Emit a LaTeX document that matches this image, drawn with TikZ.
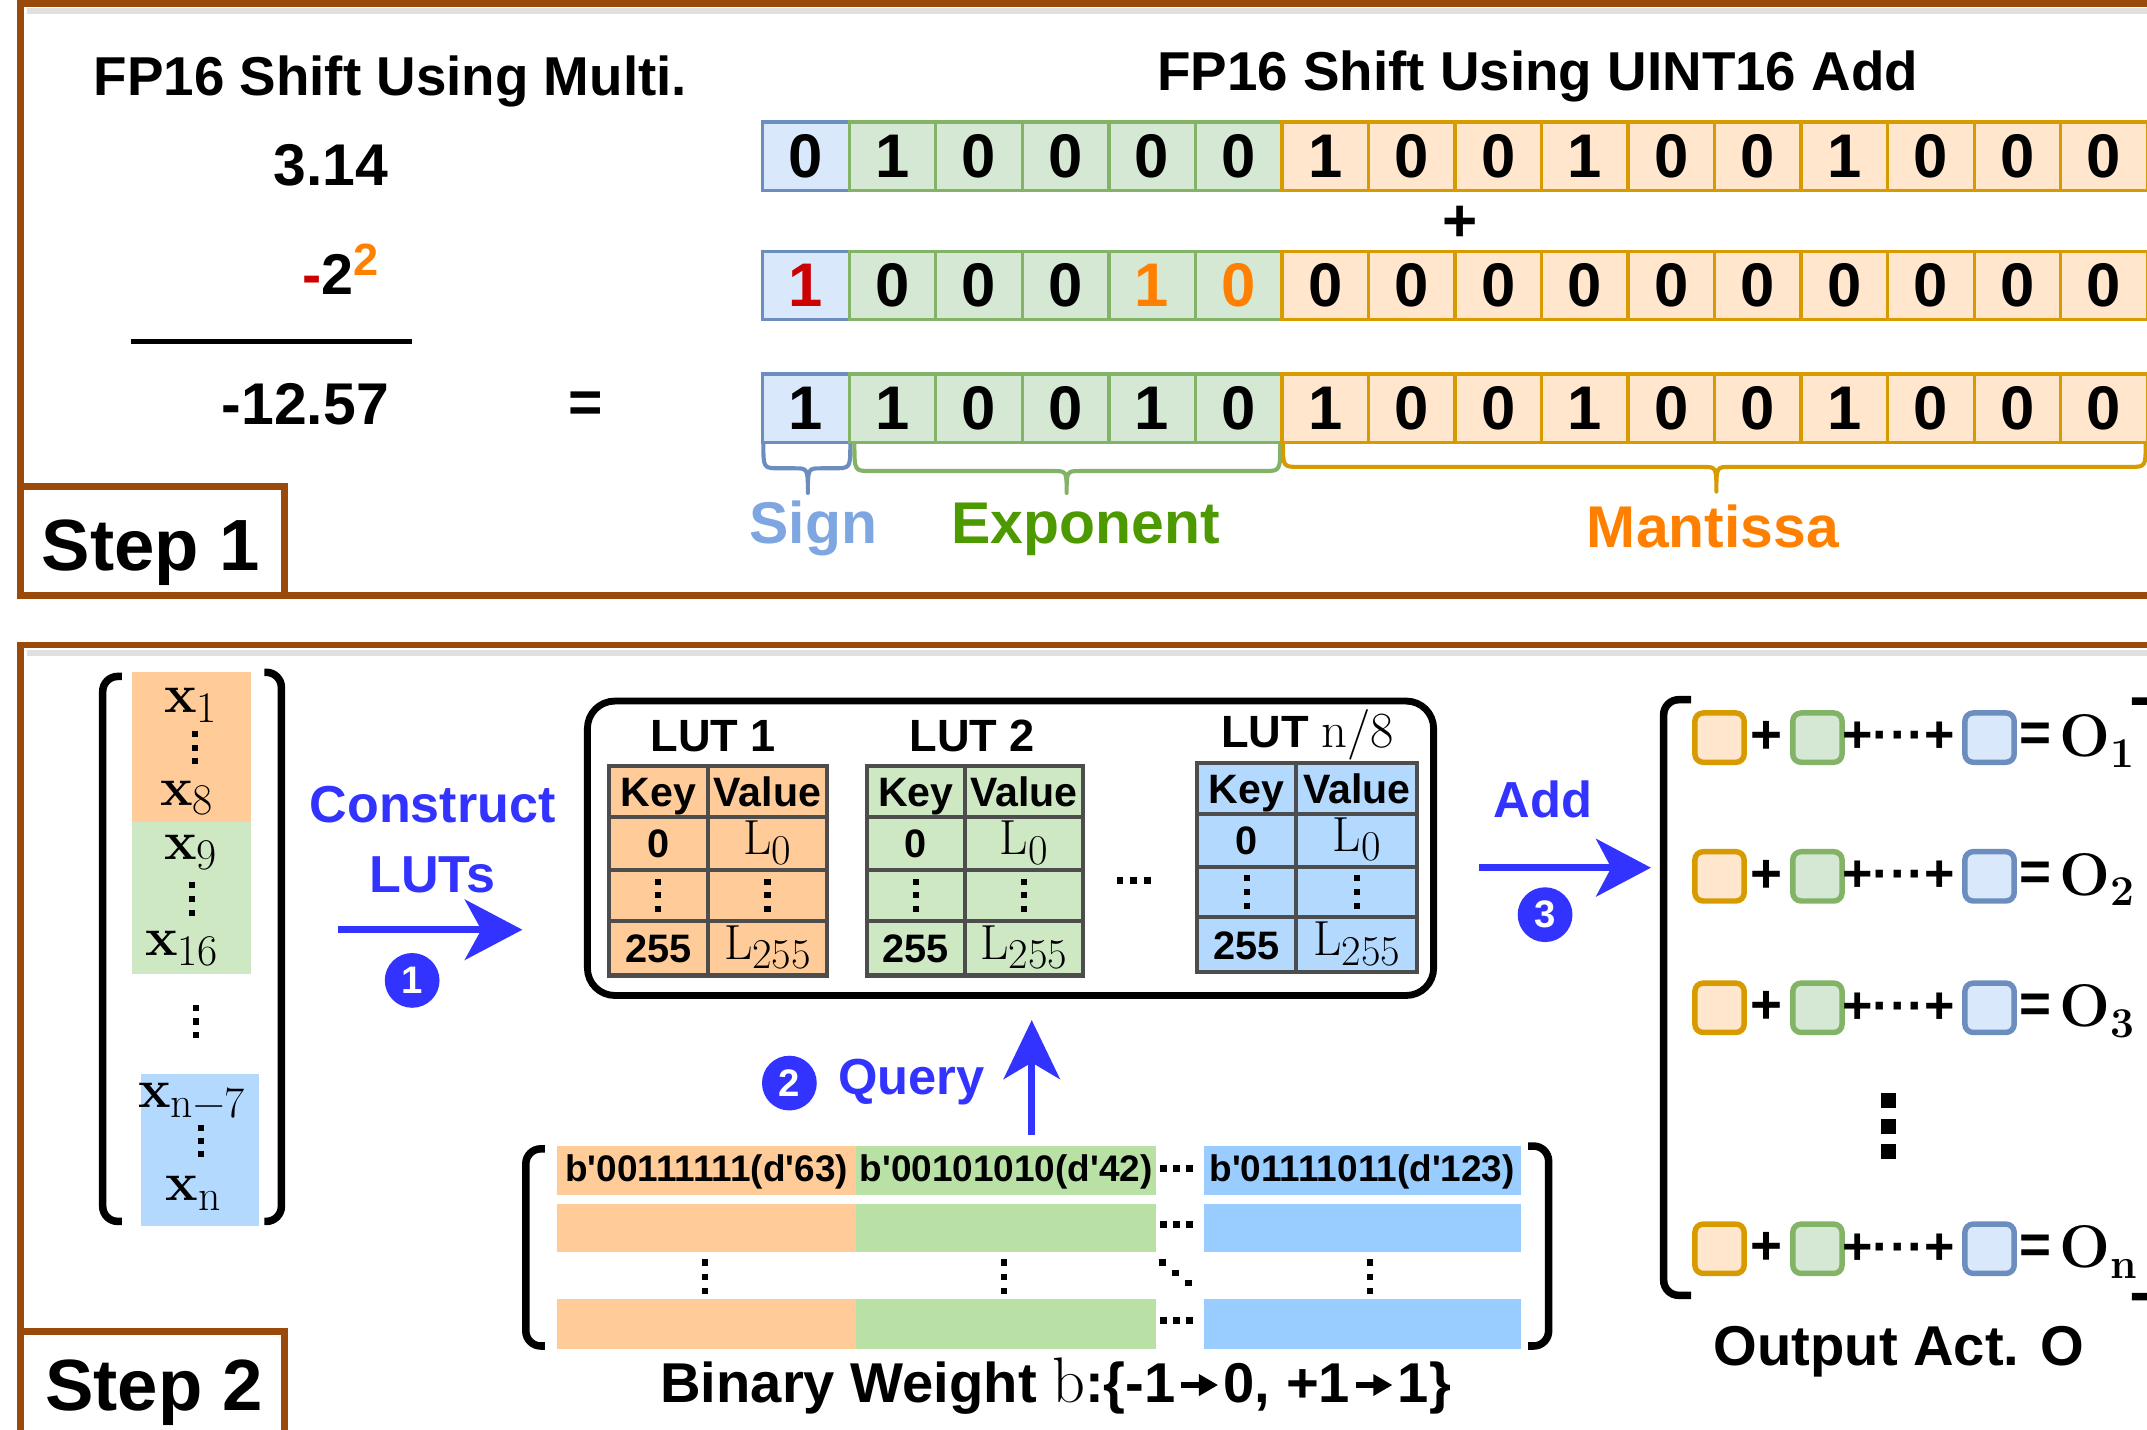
\documentclass[tikz,border=0pt]{standalone}
\usepackage{fontspec}
\usepackage{graphicx}
\usetikzlibrary{arrows.meta}
\newfontfamily\hv{Liberation Sans}[Ligatures=TeXOff]
\newcommand{\fsz}[1]{\fontsize{#1}{#1}\selectfont}
\definecolor{framec}{HTML}{9A4B0B}
\definecolor{bluF}{HTML}{DAE8FC}\definecolor{bluD}{HTML}{6C8EBF}
\definecolor{grnF}{HTML}{D5E8D4}\definecolor{grnD}{HTML}{82B366}
\definecolor{orgF}{HTML}{FFE6CC}\definecolor{orgD}{HTML}{D79B00}
\definecolor{qblue}{HTML}{3333FF}
\definecolor{lutO}{HTML}{FFCC99}\definecolor{lutG}{HTML}{CDE8C3}\definecolor{lutB}{HTML}{B3D9FF}
\definecolor{bwG}{HTML}{B9E0A5}\definecolor{bwB}{HTML}{99CCFF}
\definecolor{signT}{HTML}{7EA6E0}\definecolor{expT}{HTML}{4D9900}\definecolor{manT}{HTML}{FF8000}
\definecolor{redT}{HTML}{CC0000}
\definecolor{tabD}{HTML}{4D4D4D}

\newcommand{\sqdot}[3]{\fill ({#1-#3/2},{#2-#3/2}) rectangle ({#1+#3/2},{#2+#3/2});}
\newcommand{\vdotsq}[4]{\sqdot{#1}{#2-#3}{#4}\sqdot{#1}{#2}{#4}\sqdot{#1}{#2+#3}{#4}}
\newcommand{\hdotsq}[4]{\sqdot{#1-#3}{#2}{#4}\sqdot{#1}{#2}{#4}\sqdot{#1+#3}{#2}{#4}}
\newcommand{\fpbrace}[7]{\draw[#7, line width=3pt, line join=round] (#1,#4) .. controls (#1,#5) .. ({#1+12},#5) -- ({#2-10},#5) .. controls (#2,#5) .. (#2,#6) .. controls (#2,#5) .. ({#2+10},#5) -- ({#3-12},#5) .. controls (#3,#5) .. (#3,#4);}
\newcommand{\xsub}[1]{{\rmfamily\bfseries\fsz{40}x\raisebox{-7pt}{\mdseries\fsz{32}#1}}}
\newcommand{\Lsub}[1]{{\rmfamily\mdseries\fsz{36}L\raisebox{-7pt}{\fsz{31}#1}}}
\newcommand{\barrow}{\hspace{2pt}\tikz[baseline=0pt]{\draw[line width=4pt,-{Triangle[length=14pt,width=15pt]}] (0pt,12.5pt) -- (27pt,12.5pt);}\hspace{2pt}}
% #1 left x, #2 split x, #3 right x, #4 top y, #5 fill, #6 name prefix
\newcommand{\luttab}[6]{%
  \pgfmathsetmacro{\ya}{#4+37.5}%
  \pgfmathsetmacro{\yb}{#4+76}%
  \pgfmathsetmacro{\yc}{#4+113}%
  \pgfmathsetmacro{\yd}{#4+153}%
  \pgfmathsetmacro{\kx}{(#1+#2)/2}%
  \pgfmathsetmacro{\vx}{(#2+#3)/2}%
  \draw[tabline, fill=#5] (#1,#4) rectangle (#3,\yd);
  \draw[tabline] (#2,#4) -- (#2,\yd);
  \draw[tabline] (#1,\ya) -- (#3,\ya) (#1,\yb) -- (#3,\yb) (#1,\yc) -- (#3,\yc);
  \node[txt, anchor=base] (#6key) at (\kx,{(#4+\ya)/2+10.7}) {\fsz{30}Key};
  \node[txt, anchor=base] (#6val) at (\vx,{(#4+\ya)/2+10.7}) {\fsz{30}Value};
  \node[txt, anchor=base] (#6k0) at (\kx,{(\ya+\yb)/2+10.4}) {\fsz{29}0};
  \node[txt, anchor=base] (#6v0) at (\vx,{(\ya+\yb)/2+8}) {\Lsub{0}};
  \vdotsq{\kx}{(\yb+\yc)/2}{10}{4.5}
  \vdotsq{\vx}{(\yb+\yc)/2}{10}{4.5}
  \node[txt, anchor=base] (#6k255) at (\kx,{(\yc+\yd)/2+10.4}) {\fsz{29}255};
  \node[txt, anchor=base] (#6v255) at (\vx,{(\yc+\yd)/2+8}) {\Lsub{255}};
}

\begin{document}
\begin{tikzpicture}[x=1pt,y=-1pt,
  txt/.style={inner sep=0pt, outer sep=0pt, font=\hv\bfseries},
  bit/.style={minimum width=63.2pt, minimum height=50pt, line width=2.5pt, inner sep=0pt, font=\hv\bfseries\fsz{45}},
  tabline/.style={draw=tabD, line width=3pt},
  qarr/.style={draw=qblue, line width=5pt, -{Stealth[length=42pt,width=44pt,inset=12pt]}},
  badge/.style={circle, fill=qblue, minimum size=40pt, inner sep=0pt, text=white, font=\hv\bfseries\fsz{28}},
  osq/.style={minimum size=36pt, rounded corners=6pt, line width=4pt, inner sep=0pt},
  frm/.style={draw=framec, line width=5pt},
  brk/.style={line width=5.5pt, rounded corners=11pt}]
\useasboundingbox (0,0) rectangle (1568,1044.35);
\clip (0,0) rectangle (1568,1044.35);
\fill[white] (0,0) rectangle (1568,1044.35);

% ---------------- frames (with soft shadow) ----------------
\draw[black!12, line width=4pt] (20,8) -- (1600,8);
\draw[black!12, line width=4pt] (20,477) -- (1600,477);
\draw[frm] (15,2.5) rectangle (1600,435);
\draw[frm] (15,471) rectangle (1600,1090);
\draw[frm, fill=white] (15,355.5) rectangle (207.5,435);
\draw[frm, fill=white] (15,972.5) rectangle (207.5,1090);
\node[txt, anchor=base] (step1) at (110,416.5) {\fsz{53}Step 1};
\node[txt, anchor=base] (step2) at (112.6,1030) {\fsz{53}Step 2};

% ---------------- step 1, left ----------------
\node[txt, anchor=base] (title1) at (285,70) {\fsz{40}FP16 Shift Using Multi.};
\node[txt, anchor=base] (n314) at (241.5,135.5) {\fsz{43}3.14};
\node[txt, anchor=base west] (m22) at (221,215) {\fsz{42}\textcolor{redT}{-}2\raisebox{14pt}{\fsz{33}\textcolor{manT}{2}}};
\draw[line width=4pt] (95.6,249.4) -- (301,249.4);
\node[txt, anchor=base] (res) at (223,310) {\fsz{43}-12.57};
\node[txt] (eq) at (427.5,297.5) {\fsz{43}=};

% ---------------- step 1, right ----------------
\node[txt, anchor=base] (title2) at (1123,66) {\fsz{40}FP16 Shift Using UINT16 Add};
\foreach \b [count=\i from 0] in {0,1,0,0,0,0,1,0,0,1,0,0,1,0,0,0} {
  \ifnum\i=0 \def\fc{bluF}\def\dc{bluD}\else\ifnum\i<6 \def\fc{grnF}\def\dc{grnD}\else\def\fc{orgF}\def\dc{orgD}\fi\fi
  \node[bit, fill=\fc, draw=\dc] (ra\i) at ({588.6+63.2*\i},114) {\b};
}
\foreach \b [count=\i from 0] in {{\textcolor{redT}{1}},0,0,0,{\textcolor{manT}{1}},{\textcolor{manT}{0}},0,0,0,0,0,0,0,0,0,0} {
  \ifnum\i=0 \def\fc{bluF}\def\dc{bluD}\else\ifnum\i<6 \def\fc{grnF}\def\dc{grnD}\else\def\fc{orgF}\def\dc{orgD}\fi\fi
  \node[bit, fill=\fc, draw=\dc] (rb\i) at ({588.6+63.2*\i},208.5) {\b};
}
\foreach \b [count=\i from 0] in {1,1,0,0,1,0,1,0,0,1,0,0,1,0,0,0} {
  \ifnum\i=0 \def\fc{bluF}\def\dc{bluD}\else\ifnum\i<6 \def\fc{grnF}\def\dc{grnD}\else\def\fc{orgF}\def\dc{orgD}\fi\fi
  \node[bit, fill=\fc, draw=\dc] (rc\i) at ({588.6+63.2*\i},298) {\b};
}
\node[txt] (plus) at (1066,163.5) {\fsz{44}+};

\fpbrace{557.5}{590}{621}{324}{342}{360}{bluD}
\fpbrace{624}{779}{935}{324}{344}{360}{grnD}
\fpbrace{937}{1253.5}{1567}{324}{341}{359}{orgD}
\node[txt, anchor=base, text=signT] (lsign) at (594,397) {\fsz{43}Sign};
\node[txt, anchor=base, text=expT] (lexp) at (793,397) {\fsz{43}Exponent};
\node[txt, anchor=base, text=manT] (lman) at (1251,400) {\fsz{43}Mantissa};

% ---------------- step 2: activation vector ----------------
\fill[lutO] (96.4,490.5) rectangle (183,600);
\fill[lutG] (96.4,600) rectangle (183,711);
\fill[lutB] (102.8,784.7) rectangle (189.5,895);
\draw[brk] (89,494) -- (75,494) -- (75,892) -- (89,892);
\draw[brk] (193,491) -- (205.5,491) -- (205.5,892) -- (193,892);
\node[txt, anchor=base west] (x1) at (120,520.7) {\xsub{1}};
\vdotsq{142.5}{546}{10}{4.5}
\node[txt, anchor=base west] (x8) at (117,588) {\xsub{8}};
\node[txt, anchor=base west] (x9) at (120,628) {\xsub{9}};
\vdotsq{140}{656.5}{10}{4.5}
\node[txt, anchor=base west] (x16) at (106,698) {\xsub{16}};
\vdotsq{143.3}{746}{10}{4.5}
\node[txt, anchor=base west] (xn7) at (101,809) {\xsub{n−7}};
\vdotsq{146.7}{833.5}{9.5}{4.5}
\node[txt, anchor=base west] (xn) at (121,877) {\xsub{n}};

% construct arrow
\node[txt, anchor=base, text=qblue] (lcons) at (316,600.7) {\fsz{38}Construct};
\node[txt, anchor=base, text=qblue] (lluts) at (316,652) {\fsz{38}LUTs};
\coordinate (a1s) at (247,679);
\coordinate (a1e) at (381.5,679);
\draw[qarr] (a1s) -- (a1e);
\node[badge] (b1) at (301,716) {1};

% ---------------- LUT box ----------------
\node[draw, line width=5pt, rounded corners=20pt, minimum width=618pt, minimum height=215pt, inner sep=0pt] (lutbox) at (738,619.5) {};
\node[txt, anchor=base] (lut1) at (521,548.6) {\fsz{33}LUT 1};
\node[txt, anchor=base] (lut2) at (710,548.6) {\fsz{33}LUT 2};
\node[txt, anchor=base] (lutn) at (955,546) {\fsz{33}LUT {\rmfamily\mdseries\fsz{37}n/8}};
\luttab{444.6}{517}{604}{559.4}{lutO}{ta}
\luttab{633}{704.5}{791}{559.4}{lutG}{tb}
\luttab{874}{946.8}{1035}{557}{lutB}{tc}
\hdotsq{828}{643}{10}{5}

% ---------------- query ----------------
\coordinate (qs) at (753.5,829);
\coordinate (qe) at (753.5,745);
\draw[draw=qblue, line width=5pt, -{Stealth[length=43pt,width=41pt,inset=12pt]}] (qs) -- (qe);
\node[badge] (b2) at (576.5,791) {2};
\node[txt, anchor=base, text=qblue] (lquery) at (665.8,799) {\fsz{37}Query};

% ---------------- binary weights ----------------
\fill[lutO] (407,837) rectangle (625.4,873);
\fill[bwG] (625.4,837) rectangle (844.2,873);
\fill[bwB] (879,837) rectangle (1110.6,873);
\fill[lutO] (407,879) rectangle (625.4,914);
\fill[bwG] (625.4,879) rectangle (844.2,914);
\fill[bwB] (879,879) rectangle (1110.6,914);
\fill[lutO] (407,949) rectangle (625.4,985);
\fill[bwG] (625.4,949) rectangle (844.2,985);
\fill[bwB] (879,949) rectangle (1110.6,985);
\node[txt] (w1) at (516,856) {\fsz{27}b'00111111(d'63)};
\node[txt] (w2) at (734.8,856) {\fsz{27}b'00101010(d'42)};
\node[txt] (w3) at (994.8,856) {\fsz{27}b'01111011(d'123)};
\hdotsq{859}{853.5}{9.5}{5}
\hdotsq{859}{894}{9.5}{5}
\hdotsq{859}{964.6}{9.5}{5}
\vdotsq{515}{932.5}{10.5}{4.5}
\vdotsq{733}{932.5}{10.5}{4.5}
\vdotsq{1000.5}{932.5}{10.5}{4.5}
\sqdot{849}{922}{4.5}\sqdot{858.5}{929.5}{4.5}\sqdot{868}{937}{4.5}
\draw[brk] (398,839) -- (384,839) -- (384,983) -- (398,983);
\draw[brk] (1116,837) -- (1131,837) -- (1131,983) -- (1116,983);
\node[txt, anchor=base] (bwl) at (771,1024) {\fsz{41}Binary Weight {\rmfamily\mdseries\fsz{47}b}:\{-1\barrow0, +1\barrow1\}};

% ---------------- add ----------------
\node[txt, anchor=base, text=qblue] (ladd) at (1126.7,596.7) {\fsz{37}Add};
\coordinate (a3s) at (1080,633.7);
\coordinate (a3e) at (1205.7,633.7);
\draw[draw=qblue, line width=5pt, -{Stealth[length=40pt,width=42pt,inset=11pt]}] (a3s) -- (a3e);
\node[badge] (b3) at (1128.4,668) {3};

% ---------------- output ----------------
\draw[brk] (1235,511) -- (1215,511) -- (1215,946) -- (1235,946);
\draw[brk] (1557,512) -- (1585,512) -- (1585,947) -- (1557,947);
\foreach \yc/\sb [count=\k] in {538.7/1, 640/2, 736/3, 912/n} {
  \node[osq, fill=orgF, draw=orgD] (oo\k) at (1255.8,\yc) {};
  \node[txt] (op\k) at (1290,\yc) {\fsz{40}+};
  \node[osq, fill=grnF, draw=grnD] (og\k) at (1327.3,\yc) {};
  \node[txt] (od\k) at (1386.8,\yc) {\fsz{38}+···+};
  \node[osq, fill=bluF, draw=bluD] (ob\k) at (1453,\yc) {};
  \node[txt] (oe\k) at (1486.5,\yc) {\fsz{40}=};
  \node[txt, anchor=base west] (oO\k) at (1504,{\yc+14}) {\rmfamily\bfseries\fsz{44}O\raisebox{-7.5pt}{\fsz{31}\sb}};
}
\vdotsq{1379.5}{822.5}{18.5}{11}
\node[txt, anchor=base] (lout) at (1386.8,997) {\fsz{41}Output Act. O};
\end{tikzpicture}
\end{document}
